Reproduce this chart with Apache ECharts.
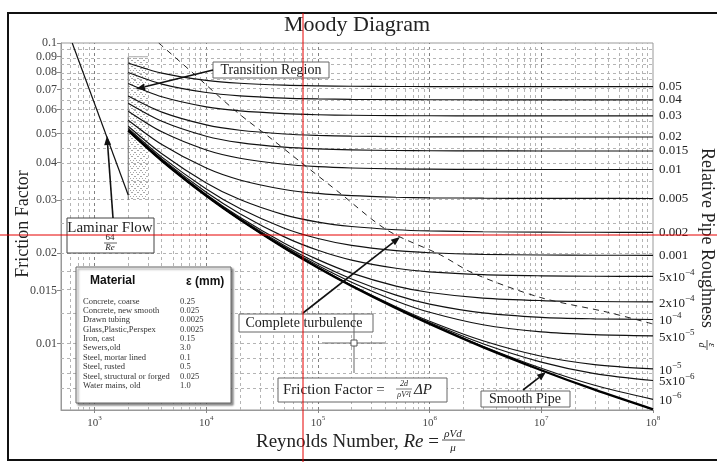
<!DOCTYPE html>
<html><head><meta charset="utf-8">
<script src="https://cdn.jsdelivr.net/npm/echarts@6/dist/echarts.min.js"></script>
<style>html,body{margin:0;padding:0;background:#fff}#c{width:717px;height:462px}</style>
</head><body><div id="c"></div>
<script>
// ---------------- DATA ----------------
const reynolds = [2000, 4000, 1e4, 2e4, 5e4, 1e5, 2e5, 5e5, 1e6, 3e6, 1e7, 3e7, 1e8];
const rough_0_05  = [0.08583,0.07938,0.07505,0.07344,0.07238,0.07200,0.07179,0.07166,0.07161,0.07157,0.07156,0.07155,0.07155];
const rough_0_04  = [0.07971,0.07298,0.06840,0.06669,0.06556,0.06515,0.06493,0.06478,0.06473,0.06469,0.06468,0.06467,0.06467];
const rough_0_03  = [0.07334,0.06620,0.06127,0.05940,0.05816,0.05770,0.05746,0.05730,0.05724,0.05720,0.05718,0.05717,0.05717];
const rough_0_02  = [0.06658,0.05886,0.05336,0.05123,0.04979,0.04926,0.04897,0.04878,0.04872,0.04867,0.04865,0.04864,0.04864];
const rough_0_015 = [0.06301,0.05489,0.04895,0.04660,0.04499,0.04439,0.04407,0.04386,0.04378,0.04373,0.04370,0.04369,0.04369];
const rough_0_01  = [0.05928,0.05061,0.04404,0.04135,0.03947,0.03875,0.03836,0.03810,0.03801,0.03795,0.03792,0.03791,0.03791];
const rough_0_005 = [0.05532,0.04591,0.03833,0.03500,0.03253,0.03156,0.03102,0.03066,0.03052,0.03043,0.03039,0.03038,0.03037];
const rough_0_002 = [0.05282,0.04280,0.03422,0.03011,0.02677,0.02533,0.02449,0.02390,0.02368,0.02352,0.02345,0.02343,0.02342];
const rough_0_001 = [0.05196,0.04169,0.03267,0.02812,0.02418,0.02234,0.02119,0.02035,0.02003,0.01978,0.01969,0.01965,0.01964];
const rough_5e_4  = [0.05152,0.04112,0.03184,0.02702,0.02262,0.02041,0.01893,0.01778,0.01730,0.01693,0.01678,0.01673,0.01671];
const rough_2e_4  = [0.05126,0.04078,0.03132,0.02631,0.02155,0.01900,0.01713,0.01551,0.01477,0.01415,0.01388,0.01378,0.01375];
const rough_1e_4  = [0.05117,0.04066,0.03115,0.02607,0.02116,0.01845,0.01639,0.01447,0.01351,0.01263,0.01221,0.01207,0.01201];
const rough_5e_5  = [0.05113,0.04061,0.03106,0.02594,0.02097,0.01816,0.01598,0.01384,0.01269,0.01153,0.01092,0.01069,0.01059];
const rough_1e_5  = [0.05109,0.04056,0.03099,0.02584,0.02080,0.01792,0.01562,0.01325,0.01185,0.01020,0.00906,0.00850,0.00822];
const rough_5e_6  = [0.05109,0.04055,0.03098,0.02583,0.02078,0.01789,0.01558,0.01317,0.01173,0.00997,0.00866,0.00793,0.00752];
const rough_1e_6  = [0.05108,0.04055,0.03098,0.02582,0.02076,0.01787,0.01554,0.01311,0.01163,0.00978,0.00826,0.00725,0.00651];
const smoothPipe  = [0.05108,0.04055,0.03097,0.02582,0.02076,0.01786,0.01553,0.01309,0.01161,0.00972,0.00814,0.00701,0.00603];
const roughLabels = ['0.05','0.04','0.03','0.02','0.015','0.01','0.005','0.002','0.001',
  '{n|5x10}{s|\u22124}','{n|2x10}{s|\u22124}','{n|10}{s|\u22124}','{n|5x10}{s|\u22125}',
  '{n|10}{s|\u22125}','{n|5x10}{s|\u22126}','{n|10}{s|\u22126}'];
const laminarRe = [630, 2000];
const laminarF  = [0.1, 0.0312];
const turbRe = [3750, 7430, 18800, 39600, 69000, 158000, 418000, 1.25e6, 2.47e6, 9.9e6, 3.9e7, 1e8];
const turbF  = [0.1, 0.080, 0.0589, 0.0475, 0.0403, 0.0316, 0.0238, 0.0197, 0.0171, 0.0142, 0.0127, 0.0116];
const transitionRe = [2000, 3000];
const transitionF  = [0.03, 0.09];
const yTickValues = [0.1,0.09,0.08,0.07,0.06,0.05,0.04,0.03,0.02,0.015,0.01];
const yTickLabels = ['0.1','0.09','0.08','0.07','0.06','0.05','0.04','0.03','0.02','0.015','0.01'];
const xTickExponents = [3,4,5,6,7,8];
const gridF = [0.095,0.09,0.085,0.08,0.075,0.07,0.065,0.06,0.055,0.05,0.045,0.04,0.035,0.03,0.025,0.02,0.0175,0.015,0.0125,0.01,0.009,0.008,0.007];
const materialNames = ['Concrete, coarse','Concrete, new smooth','Drawn tubing','Glass,Plastic,Perspex','Iron, cast','Sewers,old','Steel, mortar lined','Steel, rusted','Steel, structural or forged','Water mains, old'];
const materialEps = ['0.25','0.025','0.0025','0.0025','0.15','3.0','0.1','0.5','0.025','1.0'];

// ---------------- BUILD ----------------
const L = Math.log10;
const SERIF = "'Liberation Serif','Times New Roman',serif";
const SANS = "'Liberation Sans',Arial,sans-serif";
const roughCurves = [rough_0_05,rough_0_04,rough_0_03,rough_0_02,rough_0_015,rough_0_01,rough_0_005,rough_0_002,rough_0_001,rough_5e_4,rough_2e_4,rough_1e_4,rough_5e_5,rough_1e_5,rough_5e_6,rough_1e_6];
const toPts = (xs, ys) => xs.map((x, i) => [L(x), L(ys[i])]);

const gridRe = [];
for (let k = 2; k <= 7; k++) for (let m = 1; m <= 9; m++) { const v = m * Math.pow(10, k); if (v > 500 && v < 1e8) gridRe.push(v); }

const cv = document.createElement('canvas'); cv.width = 6; cv.height = 6;
const cx = cv.getContext('2d'); cx.fillStyle = '#a8a8a8';
for (let i = 0; i < 6; i += 2) { cx.fillRect(i, i, 1, 1); cx.fillRect(5 - i, i, 1, 1); }
const hatch = { image: cv, repeat: 'repeat' };

const series = [];
series.push({
  type: 'line', name: 'laminar', data: toPts(laminarRe, laminarF), symbol: 'none', silent: true,
  lineStyle: { color: '#111', width: 1.2 }, z: 3,
  markLine: {
    silent: true, symbol: ['none', 'none'], label: { show: false }, z: 1, animation: false,
    lineStyle: { color: '#aaa', width: 1, type: [3, 3] },
    data: gridRe.map(v => ({ xAxis: L(v), lineStyle: { color: (Math.abs(L(v) - Math.round(L(v))) < 1e-9) ? '#808080' : '#b4b4b4', width: 1, type: [3, 3] } }))
      .concat(gridF.map(v => ({ yAxis: L(v), lineStyle: { color: '#b4b4b4', width: 1, type: [3, 3] } })))
  }
});
series.push({
  type: 'custom', name: 'transition', silent: true, z: 1,
  data: [[L(transitionRe[0]), L(transitionRe[1]), L(transitionF[0]), L(transitionF[1])]],
  encode: { x: [0, 1], y: [2, 3] },
  renderItem(params, api) {
    const p1 = api.coord([api.value(0), api.value(3)]);
    const p2 = api.coord([api.value(1), api.value(2)]);
    return { type: 'group', children: [
      { type: 'rect', shape: { x: p1[0], y: p1[1], width: p2[0] - p1[0], height: p2[1] - p1[1] }, style: { fill: hatch } },
      { type: 'line', shape: { x1: p1[0], y1: p1[1], x2: p1[0], y2: p2[1] }, style: { stroke: '#777', lineWidth: 1 } },
      { type: 'line', shape: { x1: p1[0], y1: p1[1], x2: p2[0], y2: p1[1] }, style: { stroke: '#aaa', lineWidth: 1 } }
    ] };
  }
});
roughCurves.forEach((arr, i) => {
  series.push({
    type: 'line', name: 'e' + i, data: toPts(reynolds, arr), symbol: 'none', silent: true,
    smooth: 0.3, z: 3,
    lineStyle: { color: '#111', width: 1.15 },
    endLabel: {
      show: true, distance: 6, formatter: () => roughLabels[i], color: '#222',
      fontFamily: SERIF, fontSize: 13,
      rich: {
        n: { fontFamily: SERIF, fontSize: 13, lineHeight: 16, verticalAlign: 'bottom', color: '#222' },
        s: { fontFamily: SERIF, fontSize: 9, lineHeight: 9, verticalAlign: 'top', color: '#222' }
      }
    }
  });
});
series.push({
  type: 'line', name: 'smooth', data: toPts(reynolds, smoothPipe), symbol: 'none', silent: true,
  smooth: 0.3, z: 3, lineStyle: { color: '#000', width: 2.3 }
});
series.push({
  type: 'line', name: 'turb', data: toPts(turbRe, turbF), symbol: 'none', silent: true,
  smooth: 0.3, z: 3, lineStyle: { color: '#222', width: 1, type: [6, 5] }
});

// ---------------- GRAPHICS ----------------
function arrow(x1, y1, x2, y2) {
  const a = Math.atan2(y2 - y1, x2 - x1), len = 9, w = 3.5;
  const bx = x2 - len * Math.cos(a), by = y2 - len * Math.sin(a);
  const px = -Math.sin(a) * w, py = Math.cos(a) * w;
  return [
    { type: 'line', z: 110, shape: { x1, y1, x2: bx, y2: by }, style: { stroke: '#111', lineWidth: 1.6 } },
    { type: 'polygon', z: 110, shape: { points: [[x2, y2], [bx + px, by + py], [bx - px, by - py]] }, style: { fill: '#111' } }
  ];
}
function box(x, y, w, h, extra) {
  return Object.assign({ type: 'rect', z: 100, shape: { x, y, width: w, height: h }, style: { fill: '#fff', stroke: '#666', lineWidth: 1 } }, extra || {});
}
function txt(x, y, text, fs, opts) {
  return { type: 'text', z: 105, x, y, style: Object.assign({ text, font: fs + 'px ' + SERIF, fill: '#222', align: 'center', verticalAlign: 'middle' }, opts || {}) };
}
const g = [];
g.push({ type: 'rect', z: 90, shape: { x: 8, y: 13, width: 740, height: 447 }, style: { fill: 'none', stroke: '#111', lineWidth: 2 } });
g.push(txt(357, 25, 'Moody Diagram', 22));
g.push({ type: 'text', z: 105, x: 23, y: 224, rotation: Math.PI / 2, style: { text: 'Friction Factor', font: '18px ' + SERIF, fill: '#222', align: 'center', verticalAlign: 'middle' } });
g.push({ type: 'text', z: 105, x: 439, y: 442, style: { text: '{n|Reynolds Number, }{i|Re}{n| =}', align: 'right', verticalAlign: 'middle', fill: '#222',
  rich: { n: { font: '19px ' + SERIF, fill: '#222' }, i: { font: 'italic 19px ' + SERIF, fill: '#222' } } } });
g.push(txt(453, 434, '\u03c1Vd', 11, { font: 'italic 11px ' + SERIF }));
g.push({ type: 'line', z: 105, shape: { x1: 442, y1: 440, x2: 465, y2: 440 }, style: { stroke: '#222', lineWidth: 0.8 } });
g.push(txt(453, 448, '\u03bc', 11, { font: 'italic 11px ' + SERIF }));
g.push({ type: 'group', z: 105, x: 707, y: 148, rotation: -Math.PI / 2, children: [
  { type: 'text', z: 105, x: 0, y: 0, style: { text: 'Relative Pipe Roughness', font: '18px ' + SERIF, fill: '#222', align: 'left', verticalAlign: 'middle' } },
  { type: 'text', z: 105, x: 197, y: -5, style: { text: '\u03b5', font: 'italic 10px ' + SERIF, fill: '#222', align: 'center', verticalAlign: 'middle' } },
  { type: 'line', z: 105, shape: { x1: 192, y1: 0, x2: 202, y2: 0 }, style: { stroke: '#222', lineWidth: 0.8 } },
  { type: 'text', z: 105, x: 197, y: 5, style: { text: 'd', font: 'italic 10px ' + SERIF, fill: '#222', align: 'center', verticalAlign: 'middle' } }
] });
g.push(box(213, 62, 116, 16));
g.push(txt(271, 70, 'Transition Region', 14));
arrow(213, 70, 136, 89).forEach(e => g.push(e));
g.push(box(67, 218, 87, 35, { style: { fill: '#fff', stroke: '#444', lineWidth: 1 } }));
g.push(txt(110, 228, 'Laminar Flow', 15));
g.push(txt(110, 238, '64', 9));
g.push({ type: 'line', z: 105, shape: { x1: 104, y1: 243, x2: 117, y2: 243 }, style: { stroke: '#222', lineWidth: 0.7 } });
g.push(txt(110, 248, 'Re', 9, { font: 'italic 9px ' + SERIF }));
arrow(113, 218, 107, 136).forEach(e => g.push(e));
g.push(box(76, 267, 155, 136, { style: { fill: '#fff', stroke: '#666', lineWidth: 1, shadowBlur: 2, shadowOffsetX: 2, shadowOffsetY: 2, shadowColor: 'rgba(0,0,0,0.45)' } }));
g.push(txt(90, 281, 'Material', 12, { font: 'bold 12px ' + SANS, align: 'left', fill: '#111' }));
g.push(txt(186, 282, '\u03b5 (mm)', 12, { font: 'bold 12px ' + SANS, align: 'left', fill: '#111' }));
materialNames.forEach((n, i) => {
  g.push(txt(83, 301.5 + i * 9.35, n, 8.5, { align: 'left', fill: '#333' }));
  g.push(txt(180, 301.5 + i * 9.35, materialEps[i], 8.5, { align: 'left', fill: '#333' }));
});
g.push(box(239, 314, 134, 18));
g.push(txt(304, 323, 'Complete turbulence', 14));
arrow(303, 313, 400, 237).forEach(e => g.push(e));
g.push({ type: 'line', z: 100, shape: { x1: 322, y1: 343, x2: 385, y2: 343 }, style: { stroke: '#666', lineWidth: 1 } });
g.push({ type: 'line', z: 100, shape: { x1: 354, y1: 313, x2: 354, y2: 373 }, style: { stroke: '#666', lineWidth: 1 } });
g.push({ type: 'rect', z: 101, shape: { x: 351, y: 340, width: 6, height: 6 }, style: { fill: '#fff', stroke: '#555', lineWidth: 1 } });
g.push(box(278, 378, 169, 24));
g.push(txt(283, 390, 'Friction Factor =', 15, { align: 'left' }));
g.push(txt(404, 384, '2d', 8, { font: 'italic 8px ' + SERIF }));
g.push({ type: 'line', z: 105, shape: { x1: 396, y1: 389, x2: 412, y2: 389 }, style: { stroke: '#222', lineWidth: 0.6 } });
g.push(txt(404, 395, '\u03c1V\u00b2l', 8, { font: 'italic 8px ' + SERIF }));
g.push(txt(414, 390, '\u0394P', 15, { align: 'left', font: 'italic 15px ' + SERIF }));
g.push(box(481, 391, 89, 16));
g.push(txt(525, 399, 'Smooth Pipe', 14));
arrow(523, 390, 546, 372).forEach(e => g.push(e));
g.push({ type: 'line', z: 200, shape: { x1: 303, y1: 13, x2: 303, y2: 462 }, style: { stroke: '#e60000', lineWidth: 1 } });
g.push({ type: 'line', z: 200, shape: { x1: 0, y1: 235, x2: 717, y2: 235 }, style: { stroke: '#e60000', lineWidth: 1 } });

// ---------------- CHART ----------------
const chart = echarts.init(document.getElementById('c'), null, { renderer: 'canvas' });
chart.setOption({
  animation: false,
  backgroundColor: '#fff',
  grid: { left: 61, right: 64, top: 43, bottom: 52, show: true, borderColor: '#999', borderWidth: 1, containLabel: false, outerBoundsMode: 'none' },
  xAxis: {
    type: 'value', min: L(500), max: 8,
    axisLine: { show: true, lineStyle: { color: '#999' } },
    splitLine: { show: false },
    axisTick: { show: true, customValues: xTickExponents, length: 3, lineStyle: { color: '#888' } },
    axisLabel: {
      customValues: xTickExponents, margin: 5, color: '#444',
      formatter: v => '{b|10}{s|' + Math.round(v) + '}',
      rich: {
        b: { fontFamily: SERIF, fontSize: 11, lineHeight: 14, verticalAlign: 'bottom', color: '#444' },
        s: { fontFamily: SERIF, fontSize: 7, lineHeight: 7, verticalAlign: 'top', color: '#444' }
      }
    }
  },
  yAxis: {
    type: 'value', min: L(0.006), max: -1,
    axisLine: { show: true, lineStyle: { color: '#999' } },
    splitLine: { show: false },
    axisTick: { show: true, customValues: yTickValues.map(L), length: 4, lineStyle: { color: '#888' } },
    axisLabel: {
      customValues: yTickValues.map(L), margin: 4, color: '#444', fontFamily: SERIF, fontSize: 12,
      formatter: v => { for (let i = 0; i < yTickValues.length; i++) if (Math.abs(L(yTickValues[i]) - v) < 1e-6) return yTickLabels[i]; return ''; }
    }
  },
  series: series,
  graphic: { elements: g }
});
</script></body></html>
